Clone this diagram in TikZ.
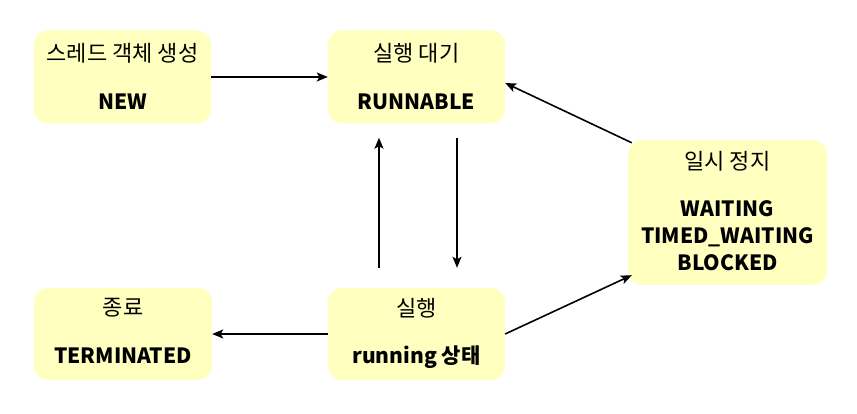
\documentclass[tikz,border=0pt]{standalone}
\usepackage{fontspec}
\setmainfont{Noto Sans CJK KR}
\usetikzlibrary{arrows.meta, positioning}
\definecolor{stbg}{HTML}{FFFFC0}
\tikzset{
  % scatola di uno stato
  state/.style={fill=stbg, rounded corners=14pt, minimum width=177pt,
    minimum height=93pt, inner sep=0pt},
  % titolo in coreano
  sttitle/.style={font=\fontsize{22}{24}\selectfont, inner sep=0pt},
  % nome dello stato
  stname/.style={font=\fontsize{21}{27}\selectfont\bfseries, align=center, inner sep=0pt},
  % transizione
  trans/.style={-{Stealth[length=11pt,width=9pt,inset=2.5pt]}, line width=1.6pt},
}
\begin{document}
\begin{tikzpicture}[x=1pt,y=1pt]
  \useasboundingbox (0,0) rectangle (857,414);
  % stati
  \node[state] (new) at (122.5,337) {};
  \node[state] (runnable) at (416.5,337) {};
  \node[state, minimum width=199pt, minimum height=145pt] (wait) at (727.5,201.5) {};
  \node[state, minimum height=92pt] (run) at (416.5,80) {};
  \node[state, minimum width=178pt, minimum height=92pt] (term) at (123,80) {};
  % testi
  \node[sttitle] (newt) at ([yshift=-23]new.north) {스레드 객체 생성};
  \node[stname] (newn) at ([yshift=22]new.south) {NEW};
  \node[sttitle] (runnablet) at ([yshift=-23]runnable.north) {실행 대기};
  \node[stname] (runnablen) at ([yshift=22]runnable.south) {RUNNABLE};
  \node[sttitle] (waitt) at ([yshift=-21]wait.north) {일시 정지};
  \node[stname] (waitn) at ([yshift=50]wait.south) {WAITING\\TIMED\_WAITING\\BLOCKED};
  \node[sttitle] (runt) at ([yshift=-20]run.north) {실행};
  \node[stname] (runn) at ([yshift=23]run.south) {running 상태};
  \node[sttitle] (termt) at ([yshift=-20]term.north) {종료};
  \node[stname] (termn) at ([yshift=25]term.south) {TERMINATED};
  % transizioni
  \draw[trans] (new) -- (runnable);
  \draw[trans] ([xshift=40.5,yshift=-14]runnable.south) -- ([xshift=40.5,yshift=20]run.north);
  \draw[trans] ([xshift=-37.5,yshift=20]run.north) -- ([xshift=-37.5,yshift=-14]runnable.south);
  \draw[trans] (run) -- (term);
  \draw[trans] (run.east) -- ([xshift=4,yshift=10]wait.south west);
  \draw[trans] ([xshift=4,yshift=-3]wait.north west) -- ([yshift=-6]runnable.east);
\end{tikzpicture}
\end{document}
